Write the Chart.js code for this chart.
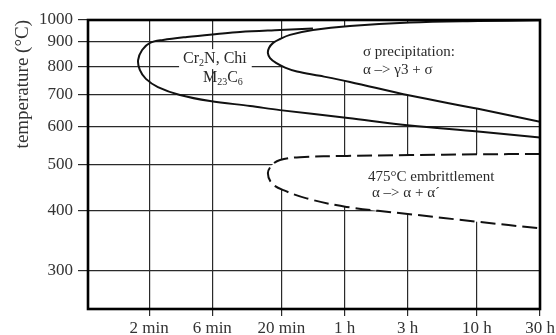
<!DOCTYPE html>
<html><head><meta charset="utf-8">
<script src="https://cdn.jsdelivr.net/npm/chart.js@4.4.0/dist/chart.umd.min.js"></script>
<style>html,body{margin:0;padding:0;background:#fff}#wrap{width:556px;height:335px;position:relative}</style>
</head><body><div id="wrap"><canvas id="c"></canvas></div>
<script>
// time axis (minutes, log), temperature axis (°C, log)
const timeTicks  = [2, 6, 20, 60, 180, 600, 1800];
const timeLabels = ['2 min', '6 min', '20 min', '1 h', '3 h', '10 h', '30 h'];
const tempTicks  = [300, 400, 500, 600, 700, 800, 900, 1000];

// Cr2N, Chi, M23C6 C-curve (solid, open upper end)
const cr2nTime = [34.6, 19.5, 9.72, 6.51, 3.86, 2.55, 2.03, 1.77, 1.65, 1.70, 1.89, 2.33, 3.42, 5.77, 11.6, 19.5, 63.7, 187, 612, 1800];
const cr2nTemp = [960, 953, 944, 935, 922, 909, 896, 866, 825, 787, 754, 725, 698, 678, 662, 649, 625, 603, 586, 569];

// sigma precipitation C-curve (solid)
const sigmaTime = [1800, 612, 187, 65.9, 34.6, 23.2, 19.5, 17.3, 16.1, 15.8, 16.4, 18.2, 21.3, 26.2, 39.1, 65.9, 187, 612, 1800];
const sigmaTemp = [998.6, 995, 988, 972, 953, 931, 913, 896, 874, 853, 833, 814, 796, 781, 765, 743, 696, 653, 614];

// 475°C embrittlement C-curve (dashed)
const embTime = [1800, 601, 187, 62.6, 27.6, 19.5, 17.0, 15.8, 16.9, 20.7, 31.0, 62, 187, 601, 1800];
const embTemp = [526, 525, 523, 521, 518, 511, 499, 480, 457, 442, 425, 408, 394, 380, 368];

// annotation texts and their anchors (time, temperature)
const noteTexts = [
  [{t:'Cr'},{t:'2',s:1},{t:'N, Chi'}],
  [{t:'M'},{t:'23',s:1},{t:'C'},{t:'6',s:1}],
  [{t:'σ precipitation:'}],
  [{t:'α –> γ3 + σ'}],
  [{t:'475°C embrittlement'}],
  [{t:'α –> α + α´'}]
];
const noteTime = [3.61, 5.1, 82.7, 82.7, 90.2, 96.7];
const noteTemp = [829, 757, 858, 787, 471, 436];
const noteBox  = [true, false, false, false, false, false];

const toPts = (xs, ys) => xs.map((x, i) => ({x, y: ys[i]}));

const notesPlugin = {
  id: 'notes',
  afterDatasetsDraw(chart) {
    const ctx = chart.ctx, xs = chart.scales.x, ys = chart.scales.y;
    noteTexts.forEach((segs, i) => {
      const big = i < 2 ? 16 : 15;
      const small = Math.round(big * 0.62);
      let x = xs.getPixelForValue(noteTime[i]);
      const y = ys.getPixelForValue(noteTemp[i]);
      ctx.save();
      ctx.textBaseline = 'middle';
      // measure
      let w = 0;
      segs.forEach(sg => { ctx.font = (sg.s ? small : big) + 'px "Liberation Serif"'; w += ctx.measureText(sg.t).width; });
      if (noteBox[i]) {
        ctx.fillStyle = '#fff';
        ctx.fillRect(x - 4, y - 10, w + 9, 20);
      }
      ctx.fillStyle = '#2a2a2a';
      segs.forEach(sg => {
        ctx.font = (sg.s ? small : big) + 'px "Liberation Serif"';
        ctx.fillText(sg.t, x, sg.s ? y + 4 : y);
        x += ctx.measureText(sg.t).width;
      });
      ctx.restore();
    });
  }
};

const framePlugin = {
  id: 'frame',
  afterDraw(chart) {
    const {ctx, chartArea: a} = chart;
    ctx.save();
    ctx.strokeStyle = '#000';
    ctx.lineWidth = 2.6;
    ctx.strokeRect(a.left, a.top, a.right - a.left, a.bottom - a.top);
    ctx.restore();
  }
};

const noPad = s => { s.paddingLeft = 0; s.paddingRight = 0; s.paddingTop = 0; s.paddingBottom = 0; };

new Chart(document.getElementById('c'), {
  type: 'scatter',
  data: {
    datasets: [
      { data: toPts(cr2nTime, cr2nTemp), showLine: true, borderColor: '#111', borderWidth: 2, pointRadius: 0, tension: 0.35, fill: false, order: 1 },
      { data: toPts(sigmaTime, sigmaTemp), showLine: true, borderColor: '#111', borderWidth: 2, pointRadius: 0, tension: 0.35, fill: 'shape', backgroundColor: '#fff', order: 2 },
      { data: toPts(embTime, embTemp), showLine: true, borderColor: '#111', borderWidth: 2, borderDash: [15, 6], pointRadius: 0, tension: 0.35, fill: 'shape', backgroundColor: '#fff', order: 3 }
    ]
  },
  options: {
    responsive: true,
    maintainAspectRatio: false,
    animation: false,
    layout: { padding: { left: 0, right: 16, top: 20, bottom: 0 } },
    plugins: { legend: { display: false }, tooltip: { enabled: false } },
    scales: {
      x: {
        type: 'logarithmic', min: 0.69, max: 1800,
        afterBuildTicks: s => { s.ticks = timeTicks.map(v => ({value: v})); },
        afterFit: s => { s.height = 26; noPad(s); },
        grid: { color: '#2a2a2a', lineWidth: 1.2, tickLength: 7, drawTicks: true },
        border: { display: false },
        ticks: {
          autoSkip: false, maxRotation: 0, padding: 2, color: '#333',
          font: { family: '"Liberation Serif"', size: 17 },
          callback: v => { const k = timeTicks.indexOf(v); return k >= 0 ? timeLabels[k] : ''; }
        }
      },
      y: {
        type: 'logarithmic', min: 250, max: 1000,
        afterBuildTicks: s => { s.ticks = tempTicks.map(v => ({value: v})); },
        afterFit: s => { s.width = 88; noPad(s); },
        grid: { color: '#2a2a2a', lineWidth: 1.2, tickLength: 10, drawTicks: true },
        border: { display: false },
        title: { display: true, text: 'temperature (°C)', align: 'end', color: '#333',
                 font: { family: '"Liberation Serif"', size: 19 }, padding: { top: 12, bottom: 0 } },
        ticks: {
          autoSkip: false, padding: 5, color: '#333',
          font: { family: '"Liberation Serif"', size: 17 },
          callback: v => tempTicks.includes(v) ? String(v) : ''
        }
      }
    }
  },
  plugins: [notesPlugin, framePlugin]
});
</script>
</body></html>
